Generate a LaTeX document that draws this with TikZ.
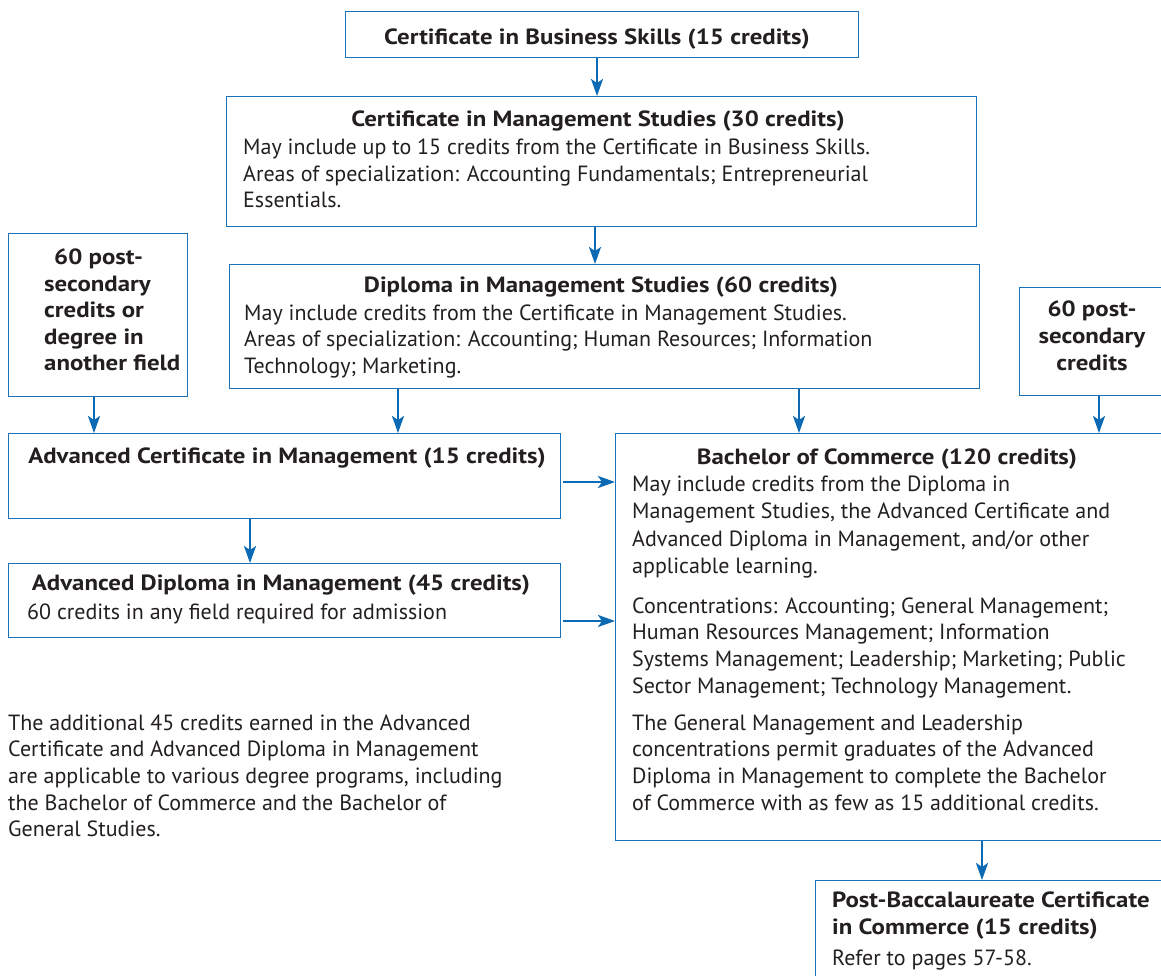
\documentclass[tikz,border=0pt]{standalone}
\usepackage{fontspec}
\setmainfont{PT Sans}
\newfontfamily\hdfont{PT Sans}[FakeStretch=1.13]
\usetikzlibrary{arrows.meta,calc}
\definecolor{bblue}{HTML}{1B72B8}
\definecolor{ablue}{HTML}{0B6AB3}
\definecolor{txt}{HTML}{231F20}
\tikzset{
  box/.style={draw=bblue, line width=1.4pt, inner sep=0pt, anchor=north west},
  arr/.style={draw=ablue, line width=2.4pt, -{Stealth[length=17pt,width=12pt,inset=4pt]}},
  ttl/.style={font=\hdfont\bfseries\fontsize{22}{27}\selectfont, text=txt, inner sep=0pt, anchor=base},
  bttl/.style={font=\hdfont\bfseries\fontsize{22}{27}\selectfont, text=txt, inner sep=0pt, anchor=base west},
  body/.style={font=\fontsize{22}{27}\selectfont, text=txt, inner sep=0pt, anchor=base west},
}
\begin{document}
\begin{tikzpicture}[x=1pt,y=-1pt]
\useasboundingbox (0,0) rectangle (1161,976);
\clip (0,0) rectangle (1161,976);
% boxes
\node[box, minimum width=513pt, minimum height=46pt] (b1) at (345,11) {};
\node[box, minimum width=750pt, minimum height=130pt] (b2) at (226,96) {};
\node[box, minimum width=750pt, minimum height=124pt] (b3) at (229,264) {};
\node[box, minimum width=179pt, minimum height=163pt] (b4) at (8,233) {};
\node[box, minimum width=160pt, minimum height=108pt] (b5) at (1019,287) {};
\node[box, minimum width=552pt, minimum height=85pt] (b6) at (8,433) {};
\node[box, minimum width=560pt, minimum height=407pt] (b7) at (615,433) {};
\node[box, minimum width=552pt, minimum height=74pt] (b8) at (8,563) {};
\node[box, minimum width=360pt, minimum height=120pt] (b9) at (815,880) {};
% texts
\node[ttl] (t1) at (597,45) {Certificate in Business Skills (15 credits)};
\node[ttl] (t2) at (598,127) {Certificate in Management Studies (30 credits)};
\foreach \s [count=\i] in {{May include up to 15 credits from the Certificate in Business Skills.},
  {Areas of specialization: Accounting Fundamentals; Entrepreneurial},
  {Essentials.}}
  \node[body] (t2l\i) at (243,{155+26.5*(\i-1)}) {\s};
\node[ttl] (t3) at (601,292) {Diploma in Management Studies (60 credits)};
\foreach \s [count=\i] in {{May include credits from the Certificate in Management Studies.},
  {Areas of specialization: Accounting; Human Resources; Information},
  {Technology; Marketing.}}
  \node[body] (t3l\i) at (244,{320+26.5*(\i-1)}) {\s};
\node[bttl] (t4a) at (54,265) {60 post-};
\foreach \s [count=\i] in {secondary, credits or, degree in, another field}
  \node[bttl] (t4l\i) at (44,{291+26.5*(\i-1)}) {\s};
\foreach \s [count=\i] in {60 post-, secondary, credits}
  \node[ttl] (t5l\i) at (1092,{316+27*(\i-1)}) {\s};
\node[ttl] (t6) at (287,463) {Advanced Certificate in Management (15 credits)};
\node[ttl] (t7) at (887,464) {Bachelor of Commerce (120 credits)};
\foreach \s [count=\i] in {{May include credits from the Diploma in},
  {Management Studies, the Advanced Certificate and},
  {Advanced Diploma in Management, and/or other},
  {applicable learning.}}
  \node[body] (t7a\i) at (632,{491+27.5*(\i-1)}) {\s};
\foreach \s [count=\i] in {{Concentrations: Accounting; General Management;},
  {Human Resources Management; Information},
  {Systems Management; Leadership; Marketing; Public},
  {Sector Management; Technology Management.}}
  \node[body] (t7b\i) at (632,{613+26.7*(\i-1)}) {\s};
\foreach \s [count=\i] in {{The General Management and Leadership},
  {concentrations permit graduates of the Advanced},
  {Diploma in Management to complete the Bachelor},
  {of Commerce with as few as 15 additional credits.}}
  \node[body] (t7c\i) at (632,{730+26.7*(\i-1)}) {\s};
\node[ttl] (t8) at (281,590) {Advanced Diploma in Management (45 credits)};
\node[body] (t8l) at (27,619) {60 credits in any field required for admission};
\foreach \s [count=\i] in {{The additional 45 credits earned in the Advanced},
  {Certificate and Advanced Diploma in Management},
  {are applicable to various degree programs, including},
  {the Bachelor of Commerce and the Bachelor of},
  {General Studies.}}
  \node[body] (f\i) at (8,{730+26.7*(\i-1)}) {\s};
\node[bttl] (t9a) at (832,907) {Post-Baccalaureate Certificate};
\node[bttl] (t9b) at (832,934) {in Commerce (15 credits)};
\node[body] (t9c) at (832,965) {Refer to pages 57-58.};
% arrow columns / rows
\coordinate (c1) at (597,0);
\coordinate (c2) at (595,0);
\coordinate (c3) at (94,0);
\coordinate (c4) at (398,0);
\coordinate (c5) at (799,0);
\coordinate (c6) at (1099,0);
\coordinate (c7) at (250,0);
\coordinate (c8) at (982,0);
\coordinate (r1) at (0,482);
\coordinate (r2) at (0,621);
% arrows
\draw[arr] (c1 |- b1.south) -- (c1 |- b2.north);
\draw[arr] (c2 |- b2.south) -- (c2 |- b3.north);
\draw[arr] (c3 |- b4.south) -- (c3 |- b6.north);
\draw[arr] (c4 |- b3.south) -- (c4 |- b6.north);
\draw[arr] (c5 |- b3.south) -- (c5 |- b7.north);
\draw[arr] (c6 |- b5.south) -- (c6 |- b7.north);
\draw[arr] (c7 |- b6.south) -- (c7 |- b8.north);
\draw[arr] ([xshift=2pt]b6.east |- r1) -- (b7.west |- r1);
\draw[arr] ([xshift=2pt]b8.east |- r2) -- (b7.west |- r2);
\draw[arr] (c8 |- b7.south) -- (c8 |- b9.north);
\end{tikzpicture}
\end{document}
